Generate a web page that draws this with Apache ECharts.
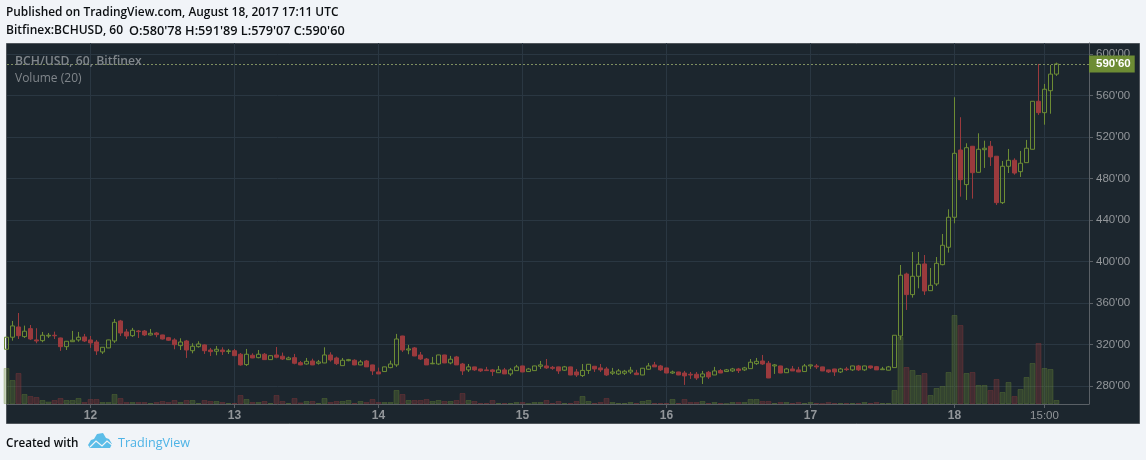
<!DOCTYPE html>
<html>
<head>
<meta charset="utf-8">
<style>
  html, body { margin: 0; padding: 0; background: #f1f4f8; }
  #chart { width: 1146px; height: 460px; }
</style>
<script src="https://cdn.jsdelivr.net/npm/echarts@6/dist/echarts.min.js"></script>
</head>
<body>
<div id="chart"></div>
<script>
// BCH/USD hourly candles, Bitfinex. Hour 0 is Aug 11 10:00 UTC, hour 175 is Aug 18 17:00 UTC.
const opens = [315.4,327,336.9,327.6,335.3,324.4,323.7,328.2,328.9,326.3,317.9,322.7,324.4,327.3,324.4,322.4,312.8,316.7,323.4,342.7,332.1,328.5,333,333,329.2,331.1,329.2,326.6,324.4,318.9,323.4,314,317.9,319.6,314.7,313.5,314.7,313.3,314,310.6,300.6,309.6,307.3,310.6,305.4,309.9,308.7,305.4,307.3,302.5,301.2,304.1,301.9,302.2,309.9,307,299.6,304.4,304.8,300.3,304.1,300.3,293.5,293.9,297.7,300.3,328.2,314.7,316.7,309.9,306,301.4,301.2,309.9,302.2,308,301.2,295.5,298.4,296.4,295.5,295.5,292.8,295.5,291.6,294.8,299.3,293.9,294.8,299,299.3,298,298.4,295.2,298.4,293.5,290,295,299,297.4,296.4,292.3,291.6,292.3,293.5,292.5,290.6,296.1,300.3,299.3,297.4,292.5,293.5,292.5,291.3,291.3,288.7,293.2,290.6,294.8,293.9,294.5,296.4,295.5,296.7,301.5,304.1,301.9,299.3,299.3,292.8,296.4,295.5,293.9,299.3,299.3,298.4,295.5,296.4,293.5,296.4,295.5,299.3,295.5,299.3,298.6,295.7,295.2,297.7,328.2,388,368.1,385.8,397.7,371.9,378.4,397,413.8,442.7,507.6,474.2,511.2,486.1,507.9,511.2,501.6,456.8,491.9,497.7,486.7,495.4,508.3,554.6,543.6,564.8,580.78];
const closes = [327,337.9,328.5,332.8,325.3,323.4,328.9,328.9,328.4,317.9,323.1,324.1,327,323.4,321.5,313.8,317.3,324.4,341.4,331.1,328.2,333.7,332.4,329.2,330.8,329.5,325.3,324.1,319.8,322.4,314.7,318.3,320.5,314,313.1,315.4,313.1,313.8,309.2,300.3,310.6,307,310.6,305.4,309.2,307.7,306,307,301.9,300.3,303.8,300.3,303.2,309.9,305.1,301.5,304.8,305.4,300.3,303.2,298.4,294.5,291.6,298.4,301.2,325.3,314.7,315.7,308.9,306,300.3,301.9,309.9,302.2,305.8,300.3,294.5,298.4,295.5,294.5,294.8,293.9,295.5,291.6,295.5,298.4,293.5,296.4,299.3,300.3,297.4,297,294.5,298.4,290.6,290.6,295,300.9,296.4,295.5,290.6,293.5,294.5,294.2,295.2,290.9,297.1,299.3,298.4,295.5,292.5,293.5,290.6,289.7,290.6,287.7,291.6,288.7,294.5,292.5,295.5,296.4,294.8,297.4,302.9,303.8,301.2,287.7,300.3,292.5,296.4,294.5,293.5,299.3,300.3,298.4,294.5,293.5,293.5,296.4,295.7,299.3,295.5,299.3,297.4,295.5,296.4,298.4,328.9,386.8,368.1,385.8,397.4,371.6,377.1,398.3,415.7,442.7,504.4,479,509.8,485.7,508.3,509.3,500.9,456.8,491.9,497.7,485.4,494.8,509.3,554.6,543.6,566.2,580.78,590.6];
const highs = [327.5,342.7,350.4,338.2,338.8,335.7,332.1,331.1,332.4,326.6,323.4,333.1,332.1,330.2,328.2,324.4,317.5,324.6,344.6,343.7,335,336,334,334,335,332.1,329.4,327.3,326,326,324.4,321.2,323.1,320.2,316.7,318.6,317.3,315.7,315.7,311.8,315.7,311.5,314.7,311.8,309.4,317.6,312.2,308.3,310.9,304.1,307,306.3,305.1,317.3,312.5,308.3,307,306.1,305.7,305.1,305.1,300.5,297.7,298.6,304.4,330.2,328.4,319.6,317.6,312.8,307,308,310.1,310.1,309,309,302.2,301.2,298.6,296.6,298.4,296.4,299.3,297.4,297.4,300.3,299.5,297.4,299.5,304.1,306,299.3,298.6,299.3,298.6,296.4,301.2,301.2,299.3,301.2,298.4,297.4,296.4,295.5,298.4,295.5,297.3,302.2,303.2,300.3,297.6,294.8,293.7,294.5,293.5,293.5,294.5,294.5,298.4,296.4,296.4,297.4,297.4,298.4,306,307,309.9,304.1,301.2,299.5,297.4,299.3,298.4,301.2,300.5,301.2,298.6,295.7,296.6,297.4,298.4,299.5,300.3,299.5,299.5,299.3,298.4,299.3,329,396.7,389.3,409.2,409.2,406.3,393.8,404.4,426.6,450.4,558.5,539.2,514.1,511.5,523.7,516.6,516.3,501.8,497,508.6,499.6,506.7,517.3,554.8,590.6,571.3,589.6,591.89];
const lows = [315,323.7,325.3,326.3,324.4,321.2,322.2,326.3,325.3,313.8,314.7,322.5,322.7,322.4,316.7,309.9,310.9,316.5,321.5,328.2,325.3,327.3,326.3,328.2,328.7,327,324.8,323.4,315.4,314.7,307,311.5,317,310.9,308.9,309.6,309.9,310.9,309,299.6,299.3,306.8,306.7,305.1,305.2,306.7,305.1,305.1,300.9,300,300.6,300.1,300.6,302,303.5,300.3,299.5,303.8,300,300,298.3,290.6,291.5,293.7,297.1,298.4,312.8,310.6,308.8,305.1,300.2,301,300.3,302,300.9,300.2,290.6,293.5,294.5,293.5,294.5,289.7,292.5,291.5,289.7,294.5,293.3,293.5,294.6,296.4,296.4,295.5,291.6,294.5,290.4,288.7,288.7,291.6,293.5,293.5,289.7,290.6,290.6,290.6,291.6,290.6,290.4,295.5,298.3,294.5,292.3,291.6,290.4,281,286.8,285.8,281.9,286.8,290.5,292.4,293.5,293.5,292.5,294.5,296.6,300.3,300.3,287.6,291.6,292.3,292.5,294.4,293.4,293.5,296.4,296.4,294.3,292.5,289.7,292.5,294.5,294.5,294.5,294.5,296.4,295.4,295.5,295,297.5,324.4,353.3,365.2,374.2,367.8,371.8,376.5,396.4,408.6,436.9,462.6,459.4,460.7,485.9,490.3,492.2,454.6,455.5,485.4,483.8,481.6,495.3,508.1,541.4,532,542.6,579.07];
// Hourly traded volume in thousands of coins.
const volumes = [18,12,15.5,5,4,3.5,2,1.2,2,3,2,2,3,1,2.5,2.5,1,1,5,3,1,1,1,1,0.5,1,1.5,1,2,1,2,2,0.5,2,1.5,1.5,1,0.5,0.5,4.5,2.5,1,1,1.5,0.5,4.5,1.5,0.5,3,0.8,1.5,1.5,0.5,3,1,1.5,1.5,2,0.5,1.5,1,2.5,1,1,1,7,5,2,2,2,2.5,1.5,2,1.5,1.5,2,5.5,2,1.5,0.5,0.5,2,0.5,0.5,0.5,1,1,0.2,1,1,2,0.5,1.5,0.5,0.5,1.5,4,1.5,0.5,1,3,1,0.5,0.5,1,0.5,1.5,2,0.5,0.5,0.5,2.5,0.5,2.5,1,1,1.5,0.5,1,0.5,0.2,1,1,1,2.5,2.5,1.5,1.5,0.5,1,1,0.5,1,0.5,1,0.5,0.2,1,0.5,0.5,0.5,0.5,0.5,1,0.5,1,0.5,0.5,7,33.5,18.5,17,14.5,15.5,4.5,8,9,16,44.5,39.5,15.5,16,9.5,9.5,7,12.5,6,11,4,7.5,13.5,20.5,30.5,18,17.5,2];

const lastPrice = 590.6;
const priceTicks = [280, 320, 360, 400, 440, 480, 520, 560, 600];
const timeTickHours = [14, 38, 62, 86, 110, 134, 158, 173];
const timeTickLabels = ['12', '13', '14', '15', '16', '17', '18', '15:00'];

const UP = '#6d8c34';
const DOWN = '#9b3a3d';
const GRID = '#2a3742';
const AXIS = '#5a6066';
const LABEL = '#92969a';

const priceText = v => v.toFixed(2).replace('.', "'");
const hours = opens.map((_, i) => i);
const candleRows = hours.map(i => [i, opens[i], closes[i], lows[i], highs[i]]);
const volumeRows = hours.map(i => ({
  value: [i, volumes[i]],
  itemStyle: closes[i] >= opens[i]
    ? { color: 'rgba(109,140,52,0.3)', borderColor: 'rgba(109,140,52,0.3)', borderWidth: 1 }
    : { color: 'rgba(155,58,61,0.3)', borderColor: 'rgba(155,58,61,0.3)', borderWidth: 1 }
}));

const headerFont = '"Open Sans", sans-serif';
const axisFont = '"Liberation Sans", Arial, sans-serif';
const INK = '#0c0f12';
const text = (x, y, str, font, fill) => ({
  type: 'text', x, y, z: 10,
  style: { text: str, font, fill, textVerticalAlign: 'top' }
});

const chart = echarts.init(document.getElementById('chart'));
chart.setOption({
  animation: false,
  backgroundColor: '#f1f4f8',
  graphic: [
    { type: 'rect', z: -10, shape: { x: 6.5, y: 43.5, width: 1133, height: 380 },
      style: { fill: '#1c262e', stroke: '#50565c', lineWidth: 1 } },
    text(6, 7, 'Published on TradingView.com, August 18, 2017 17:11 UTC', '600 11.9px ' + headerFont, INK),
    text(6, 25, 'Bitfinex:BCHUSD, 60', '600 12px ' + headerFont, INK),
    text(129, 25, "O:580'78 H:591'89 L:579'07 C:590'60", '600 12.7px ' + headerFont, INK),
    text(15, 56, 'BCH/USD, 60, Bitfinex', '600 12.2px ' + headerFont, '#80868b'),
    text(15, 73, 'Volume (20)', '12px ' + headerFont, '#80868b'),
    text(6, 438, 'Created with', '600 11.7px ' + headerFont, INK),
    text(118, 437, 'TradingView', '12.6px ' + headerFont, '#4db3e6'),
    { type: 'polygon', z: 10,
      shape: { points: [[88, 445], [91, 440], [94, 439], [97, 434], [103, 433], [106, 438], [109, 439], [112, 444], [110, 448], [90, 448]] },
      style: { fill: '#5cbde8' } },
    { type: 'polyline', z: 11,
      shape: { points: [[90, 447], [96, 441], [102, 446], [107, 441], [112, 445]] },
      style: { fill: 'none', stroke: '#f1f4f8', lineWidth: 1.2 } }
  ],
  grid: { left: 7, right: 57, top: 43, bottom: 56, containLabel: false },
  xAxis: {
    // half an hour's pixel offset keeps one-pixel wicks on whole pixels
    type: 'value', min: 1 / 12, max: 1 / 12 + 1082 / 6,
    axisLine: { show: true, onZero: false, lineStyle: { color: AXIS } },
    axisTick: { show: true, length: 4, lineStyle: { color: AXIS }, customValues: timeTickHours },
    axisLabel: {
      customValues: timeTickHours, margin: 6,
      formatter: v => {
        const label = timeTickLabels[timeTickHours.indexOf(v)];
        return label.includes(':') ? `{time|${label}}` : `{day|${label}}`;
      },
      rich: {
        day: { color: LABEL, fontFamily: axisFont, fontSize: 12, fontWeight: 'bold' },
        time: { color: LABEL, fontFamily: axisFont, fontSize: 11.5 }
      }
    },
    splitLine: { show: true, lineStyle: { color: GRID }, customValues: timeTickHours }
  },
  yAxis: [
    {
      type: 'value', position: 'right', min: 262.6, max: 610.8,
      axisLine: { show: true, onZero: false, lineStyle: { color: AXIS } },
      axisTick: { show: true, length: 4, lineStyle: { color: AXIS }, customValues: priceTicks },
      axisLabel: {
        customValues: priceTicks, color: LABEL, fontFamily: axisFont,
        fontSize: 11.5, margin: 7, padding: [2, 0, 0, 0], formatter: v => priceText(v)
      },
      splitLine: { show: true, lineStyle: { color: GRID }, customValues: priceTicks }
    },
    { type: 'value', min: 0, max: 180.5, show: false, splitLine: { show: false } }
  ],
  series: [
    {
      type: 'bar', name: 'Volume', xAxisIndex: 0, yAxisIndex: 1, z: 2,
      barWidth: 6, data: volumeRows, silent: true
    },
    {
      type: 'candlestick', name: 'BCH/USD', xAxisIndex: 0, yAxisIndex: 0, z: 3,
      barWidth: 5, encode: { x: 0, y: [1, 2, 3, 4] },
      data: candleRows, silent: true,
      itemStyle: {
        color: 'rgba(0,0,0,0)', color0: DOWN,
        borderColor: UP, borderColor0: DOWN, borderWidth: 1
      },
      markLine: {
        silent: true, symbol: 'none', animation: false,
        lineStyle: { color: '#7f8f60', type: [2, 2], width: 1 },
        data: [{ yAxis: lastPrice }],
        label: {
          position: 'end', distance: 0, formatter: () => priceText(lastPrice),
          color: '#ffffff', backgroundColor: '#6d8c34', fontWeight: 'bold',
          fontFamily: axisFont, fontSize: 11.5,
          padding: [3, 4, 2, 7]
        }
      }
    }
  ]
});
</script>
</body>
</html>
